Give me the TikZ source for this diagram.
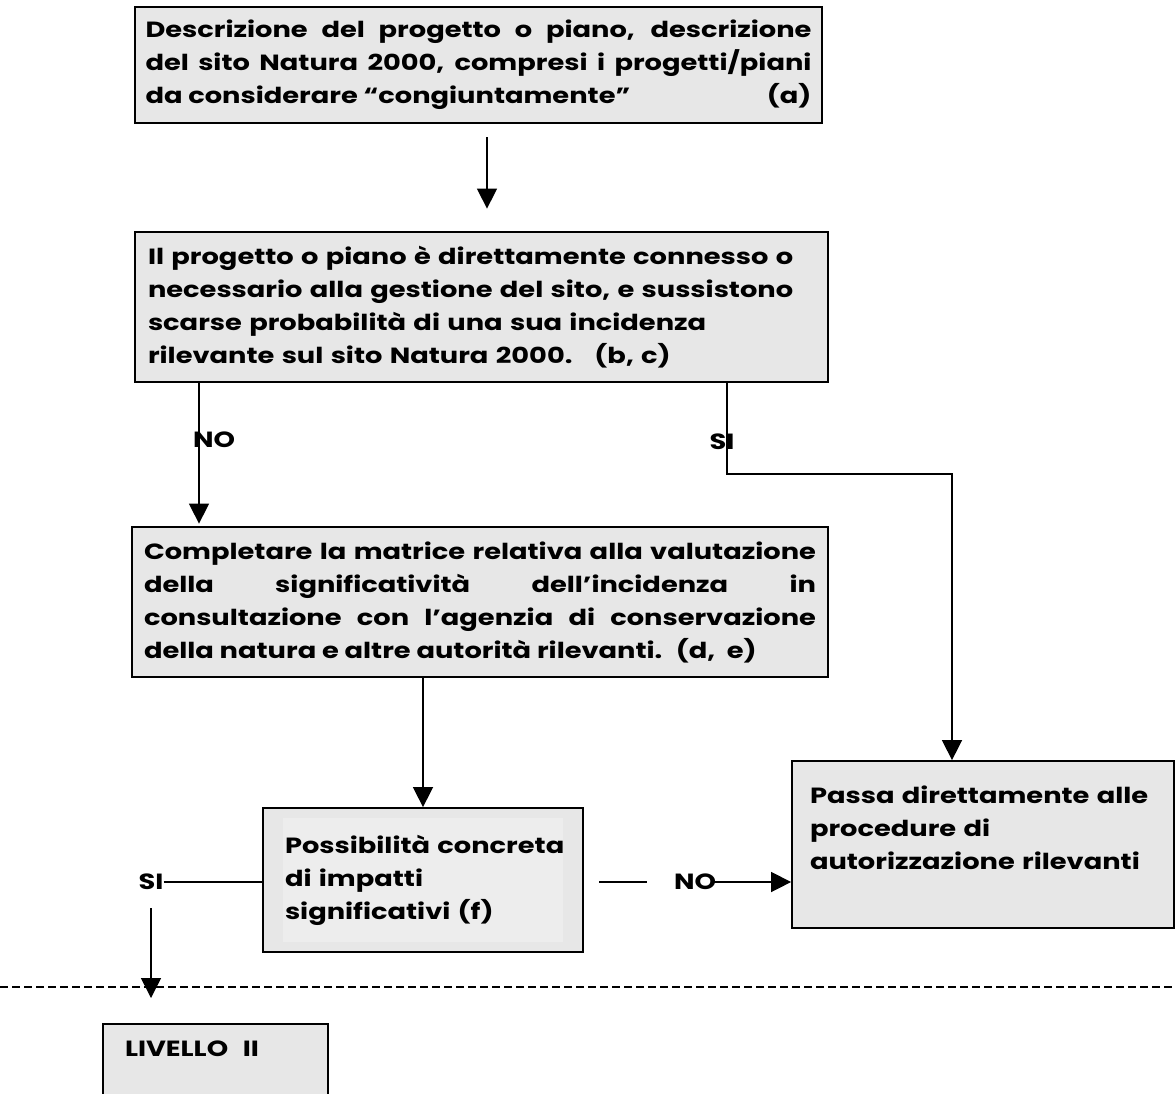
\documentclass[tikz,border=0pt]{standalone}
\usepackage{fontspec}
\setmainfont{Poppins}[FakeStretch=1.24]
\usetikzlibrary{arrows.meta}
\definecolor{boxgray}{RGB}{231,231,231}
\definecolor{textgray}{RGB}{237,237,237}

\begin{document}
\begin{tikzpicture}[x=1pt,y=-1pt,
  every node/.style={font=\bfseries\fontsize{22}{33}\selectfont},
  box/.style={draw=black,fill=boxgray,line width=2.8pt,inner ysep=0pt},
  thinbox/.style={draw=black,fill=boxgray,line width=1.8pt,inner ysep=0pt},
  lbl/.style={inner sep=0pt},
  conn/.style={line width=1.5pt},
  arr/.style={conn,-{Triangle[length=20pt,width=20pt]}},
  cutline/.style={line width=2.5pt,dash pattern=on 8pt off 4pt}]
\clip (0,0) rectangle (1175,1093);
% boxes
\node (b1) [box,text width=666pt,align=justify,minimum height=116pt,inner xsep=10.5pt] at (478.5,65)
  {Descrizione del progetto o piano, descrizione\linebreak del sito Natura 2000, compresi i progetti/piani\linebreak da considerare “congiuntamente”\hspace{0pt plus 1filll}(a)\hspace*{10pt}};
\node (b2) [box,text width=667pt,align=left,minimum height=150pt,inner xsep=13pt] at (481.5,307)
  {Il progetto o piano è direttamente connesso o\\ necessario alla gestione del sito, e sussistono\\ scarse probabilità di una sua incidenza\\ rilevante sul sito Natura 2000.\quad(b, c)};
\node (b3) [box,text width=672pt,align=justify,minimum height=150pt,inner xsep=12pt] at (480,602)
  {Completare la matrice relativa alla valutazione\linebreak della significatività dell’incidenza in\linebreak consultazione con l’agenzia di conservazione\linebreak della natura e altre autorità rilevanti.~ (d,~ e)};
\node (b4) [thinbox,minimum width=320pt,minimum height=144pt] at (423,880) {};
\node (b4t) [fill=textgray,text width=276pt,align=left,inner xsep=2pt,inner ysep=0pt,minimum height=124pt] at (b4.center)
  {\mbox{Possibilità concreta}\\ di impatti\\ significativi (f)};
\node (b5) [thinbox,text width=346pt,align=left,minimum height=167pt,inner xsep=18pt] at (983,844.5)
  {Passa direttamente alle\\ procedure di\\ autorizzazione rilevanti\\ ~};
\node (b6) [thinbox,text width=181pt,align=left,minimum height=116pt,minimum width=225pt,inner xsep=22pt] at (215.5,1082)
  {LIVELLO~~II\\ ~\\ ~};
%
\draw[cutline] (0,987) -- (1175,987);
% labels
\node (nol) [lbl,anchor=west] at (193,440) {NO};
\node (sir) [lbl] at (722,442) {SI};
\node (sil) [lbl] at (151,882) {SI};
\node (nor) [lbl] at (695,882) {NO};
\coordinate (c1) at (487,137);
\coordinate (nox) at (199,0);
\coordinate (six) at (727,0);
\coordinate (siturn) at (952,474);
\coordinate (sidown) at (151,998);
\coordinate (nostub) at (599,882);
% connectors
\draw[arr,shorten >=22pt] (c1) -- (c1 |- b2.north);
\draw[arr,shorten >=2pt] (b2.south -| nox) -- (b3.north -| nox);
\draw[arr] (b2.south -| six) |- (siturn) -- (siturn |- b5.north);
\draw[arr] (b4.north |- b3.south) -- (b4.north);
\draw[conn] (sil.east) -- (sil.east -| b4.west);
\draw[arr] ([yshift=-26pt]sil.center) -- (sidown);
\draw[conn] (nostub) -- ++(48,0);
\draw[arr] ([xshift=-5pt]nor.east) -- (nor.east -| b5.west);
\end{tikzpicture}
\end{document}
